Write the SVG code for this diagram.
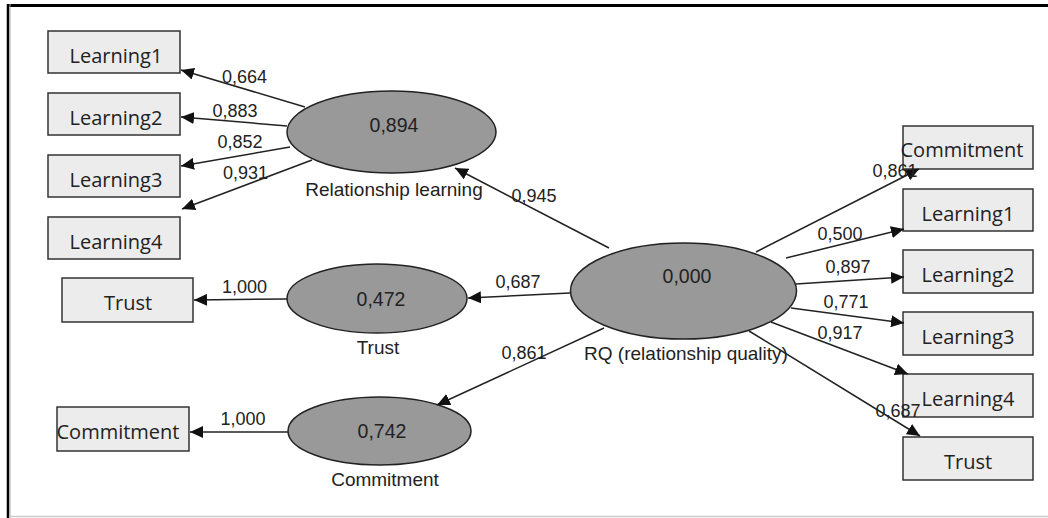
<svg xmlns="http://www.w3.org/2000/svg" width="1048" height="518" viewBox="0 0 1048 518">
<style>
.box{fill:#ececec;stroke:#333;stroke-width:1.5}
.ell{fill:#999;stroke:#222;stroke-width:1.5}
.bt{font-family:"Open Sans","Noto Sans",sans-serif;font-size:20px;fill:#222;text-anchor:middle}
.ev{font-family:"Liberation Sans",Arial,sans-serif;font-size:19.5px;fill:#222;text-anchor:middle}
.el{font-family:"Liberation Sans",Arial,sans-serif;font-size:19px;fill:#222;text-anchor:middle}
.pl{font-family:"Liberation Sans",Arial,sans-serif;font-size:18px;fill:#222;text-anchor:middle}
.c{stroke:#222;stroke-width:1.5;fill:none;marker-end:url(#ah)}
</style>
<defs>
<marker id="ah" markerUnits="userSpaceOnUse" markerWidth="14" markerHeight="12" refX="13" refY="6" orient="auto">
<path d="M0,0 L13,6 L0,12 z" fill="#111"/>
</marker>
</defs>
<rect x="0" y="0" width="1048" height="518" fill="#fff"/>
<line x1="7" y1="5.5" x2="1048" y2="5.5" stroke="#000" stroke-width="3"/>
<line x1="8" y1="4" x2="8" y2="518" stroke="#000" stroke-width="2.5"/>
<line x1="10" y1="4" x2="10" y2="518" stroke="#aaa" stroke-width="1"/>
<line x1="9" y1="516.5" x2="1048" y2="516.5" stroke="#ccc" stroke-width="1.5"/>

<g id="box-l-learning1"><rect class="box" x="48" y="31" width="132" height="42"/><text class="bt" x="116" y="63">Learning1</text></g>
<g id="box-l-learning2"><rect class="box" x="48" y="93" width="132" height="42"/><text class="bt" x="116" y="125">Learning2</text></g>
<g id="box-l-learning3"><rect class="box" x="48" y="155" width="132" height="42"/><text class="bt" x="116" y="187">Learning3</text></g>
<g id="box-l-learning4"><rect class="box" x="48" y="217" width="132" height="42"/><text class="bt" x="116" y="249">Learning4</text></g>
<g id="box-l-trust"><rect class="box" x="62" y="278" width="131" height="44"/><text class="bt" x="128" y="310">Trust</text></g>
<g id="box-l-commitment"><rect class="box" x="57" y="407" width="132" height="44"/><text class="bt" x="118" y="439">Commitment</text></g>

<g id="box-r-commitment"><rect class="box" x="903" y="126" width="130" height="43"/><text class="bt" x="962" y="157">Commitment</text></g>
<g id="box-r-learning1"><rect class="box" x="903" y="189" width="130" height="42"/><text class="bt" x="968" y="221">Learning1</text></g>
<g id="box-r-learning2"><rect class="box" x="903" y="250" width="130" height="43"/><text class="bt" x="968" y="282">Learning2</text></g>
<g id="box-r-learning3"><rect class="box" x="903" y="312" width="130" height="43"/><text class="bt" x="968" y="344">Learning3</text></g>
<g id="box-r-learning4"><rect class="box" x="903" y="374" width="130" height="43"/><text class="bt" x="968" y="406">Learning4</text></g>
<g id="box-r-trust"><rect class="box" x="903" y="437" width="130" height="43"/><text class="bt" x="968" y="469">Trust</text></g>

<g id="lv-relationship-learning"><ellipse class="ell" cx="391.5" cy="132" rx="104.5" ry="41"/><text class="ev" x="394" y="132">0,894</text><text class="el" x="394" y="196">Relationship learning</text></g>
<g id="lv-trust"><ellipse class="ell" cx="377" cy="298.5" rx="90" ry="34.5"/><text class="ev" x="381" y="306">0,472</text><text class="el" x="378" y="354">Trust</text></g>
<g id="lv-commitment"><ellipse class="ell" cx="379.5" cy="431" rx="91.5" ry="34"/><text class="ev" x="382" y="438">0,742</text><text class="el" x="385" y="486">Commitment</text></g>
<g id="lv-rq"><ellipse class="ell" cx="683.5" cy="291" rx="113" ry="48"/><text class="ev" x="687" y="283">0,000</text><text class="el" x="686" y="360">RQ (relationship quality)</text></g>

<g id="connectors">
<line class="c" x1="305" y1="107" x2="181" y2="70"/>
<line class="c" x1="287" y1="126" x2="181" y2="117"/>
<line class="c" x1="290" y1="147" x2="181" y2="166"/>
<line class="c" x1="312" y1="160" x2="182" y2="209"/>
<line class="c" x1="609" y1="248" x2="455" y2="168"/>
<line class="c" x1="570" y1="293" x2="468" y2="298"/>
<line class="c" x1="604" y1="328" x2="437" y2="405"/>
<line class="c" x1="287" y1="299" x2="194" y2="300"/>
<line class="c" x1="288" y1="432" x2="190" y2="432"/>
<line class="c" x1="756" y1="252" x2="919" y2="169"/>
<line class="c" x1="786" y1="258" x2="904" y2="229"/>
<line class="c" x1="796" y1="284" x2="904" y2="277"/>
<line class="c" x1="791" y1="308" x2="904" y2="323"/>
<line class="c" x1="771" y1="322" x2="908" y2="374"/>
<line class="c" x1="749" y1="331" x2="920" y2="436"/>
</g>

<g id="path-labels">
<text class="pl" x="244.5" y="83">0,664</text>
<text class="pl" x="235" y="117">0,883</text>
<text class="pl" x="240" y="148">0,852</text>
<text class="pl" x="245.5" y="179">0,931</text>
<text class="pl" x="534" y="202">0,945</text>
<text class="pl" x="244.5" y="293">1,000</text>
<text class="pl" x="243" y="425">1,000</text>
<text class="pl" x="518" y="288">0,687</text>
<text class="pl" x="524" y="359">0,861</text>
<text class="pl" x="895" y="177">0,861</text>
<text class="pl" x="840" y="240">0,500</text>
<text class="pl" x="848" y="273">0,897</text>
<text class="pl" x="846" y="308">0,771</text>
<text class="pl" x="840" y="339">0,917</text>
<text class="pl" x="898" y="417">0,687</text>
</g>
</svg>
